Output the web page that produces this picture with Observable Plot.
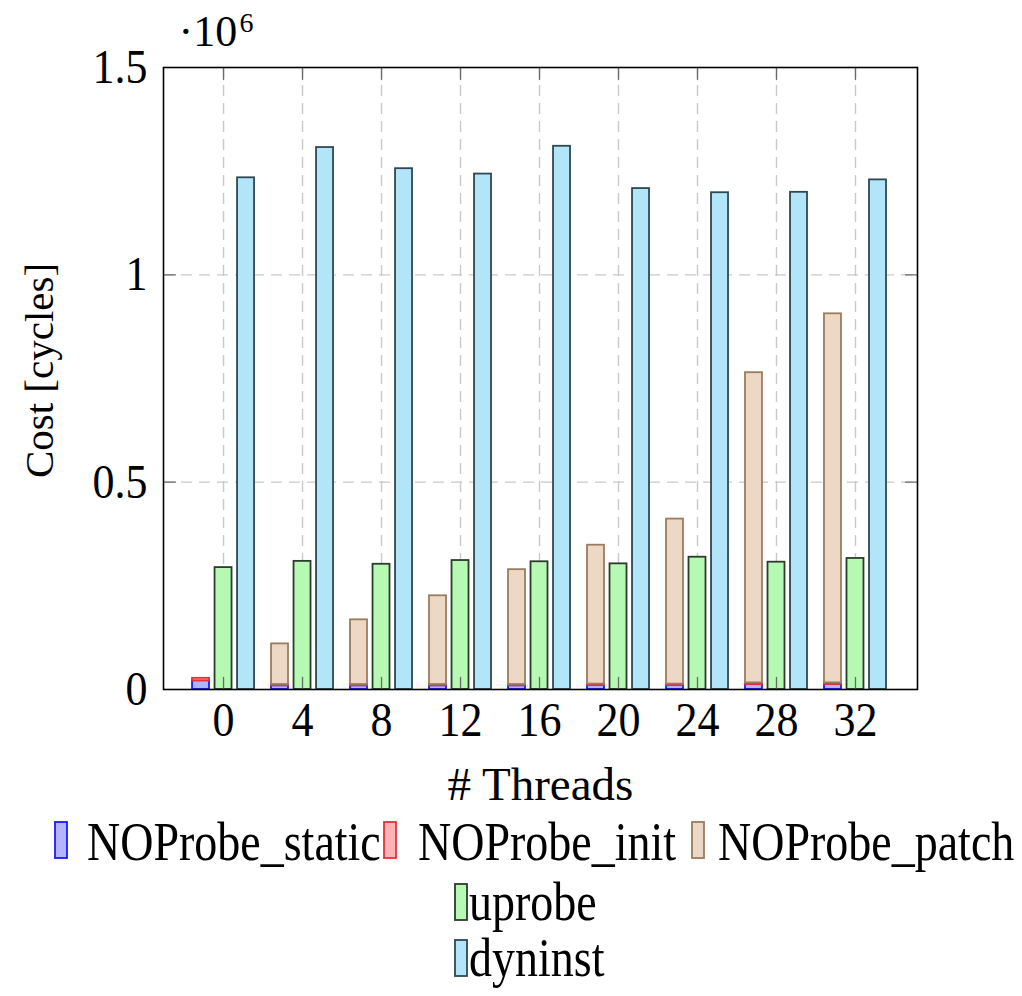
<!DOCTYPE html>
<html><head><meta charset="utf-8">
<script src="https://cdn.jsdelivr.net/npm/d3@7"></script>
<script src="https://cdn.jsdelivr.net/npm/@observablehq/plot@0.6"></script>
<style>
body{margin:0;background:#fff;}
#chart{width:1022px;}
svg{display:block;}
</style></head><body><div id="chart"></div>
<script>
// ---- data (values in 10^6 cycles) ----
const threads = [0, 4, 8, 12, 16, 20, 24, 28, 32];
const noprobeStatic = [0.021, 0.009, 0.009, 0.009, 0.009, 0.010, 0.010, 0.012, 0.012];
const noprobeInit   = [0.006, 0.003, 0.003, 0.003, 0.003, 0.003, 0.003, 0.004, 0.004];
const noprobePatch  = [0.000, 0.098, 0.156, 0.214, 0.277, 0.335, 0.398, 0.748, 0.890];
const uprobe        = [0.294, 0.309, 0.302, 0.311, 0.308, 0.303, 0.319, 0.307, 0.316];
const dyninst       = [1.234, 1.307, 1.256, 1.243, 1.310, 1.208, 1.198, 1.199, 1.229];
const seriesNames = ["NOProbe_static", "NOProbe_init", "NOProbe_patch", "uprobe", "dyninst"];
const yTicks = [0, 0.5, 1, 1.5];
const yGrid = [0.5, 1];
const xLabel = "# Threads";
const yLabel = "Cost [cycles]";

// ---- pick an installed serif font ----
function hasFont(name) {
  const c = document.createElement("canvas").getContext("2d");
  const s = "NOProbe_static 0123456789 Threads";
  return ["monospace", "sans-serif"].some(base => {
    c.font = `40px ${base}`; const w0 = c.measureText(s).width;
    c.font = `40px "${name}", ${base}`; const w1 = c.measureText(s).width;
    return Math.abs(w0 - w1) > 0.5;
  });
}
const serifCandidates = ["Liberation Serif", "Tinos", "Times New Roman", "Nimbus Roman", "FreeSerif", "DejaVu Serif", "Noto Serif"];
const found = serifCandidates.find(hasFont);
const FONT = found ? `"${found}", serif` : "serif";

// ---- styles ----
const fills   = ["#b3b3ff", "#ffb3b3", "#ecd8c4", "#b5f9b3", "#b3e5f8"];
const strokes = ["#1a1aff", "#e8303a", "#9c7c5e", "#2c3b2c", "#2e4853"];
const xDomain = [-3.04, 35.14];
const barOffset = [-1.14, 0, 1.14];   // bar shift in x units
const barW = 0.86;

// ---- build rect rows ----
const rows = seriesNames.map(() => []);
threads.forEach((t, i) => {
  const s = noprobeStatic[i], n = noprobeInit[i], p = noprobePatch[i];
  const stack = [[0, s], [s, s + n], [s + n, s + n + p]];
  stack.forEach(([a, b], k) => {
    if (b > a) rows[k].push({x1: t + barOffset[0] - barW / 2, x2: t + barOffset[0] + barW / 2, y1: a, y2: b});
  });
  rows[3].push({x1: t + barOffset[1] - barW / 2, x2: t + barOffset[1] + barW / 2, y1: 0, y2: uprobe[i]});
  rows[4].push({x1: t + barOffset[2] - barW / 2, x2: t + barOffset[2] + barW / 2, y1: 0, y2: dyninst[i]});
});

const tickShape = {draw(ctx, l) { ctx.moveTo(0, 0); ctx.lineTo(0, -l); }};
const tickStyle = {length: 12, anchor: "start", shape: tickShape, stroke: "#6a6a6a", strokeWidth: 1.3};

const chart = Plot.plot({
  width: 1022,
  height: 810,
  marginLeft: 163,
  marginRight: 105,
  marginTop: 67,
  marginBottom: 121,
  style: {fontFamily: FONT, fontSize: "44px", background: "white", color: "black"},
  x: {domain: xDomain},
  y: {domain: [0, 1.5]},
  marks: [
    Plot.ruleX(threads, {stroke: "#c9c9c9", strokeWidth: 1.4, strokeDasharray: "11,7"}),
    Plot.ruleY(yGrid, {stroke: "#c9c9c9", strokeWidth: 1.4, strokeDasharray: "11,7"}),
    ...rows.map((r, k) => Plot.rect(r, {x1: "x1", x2: "x2", y1: "y1", y2: "y2",
      fill: fills[k], stroke: strokes[k], strokeWidth: 1.8})),
    Plot.vector(threads, {x: d => d, y: 0, rotate: 0, ...tickStyle}),
    Plot.vector(threads, {x: d => d, y: 1.5, rotate: 180, ...tickStyle}),
    Plot.vector(yGrid, {x: xDomain[0], y: d => d, rotate: 90, ...tickStyle}),
    Plot.vector(yGrid, {x: xDomain[1], y: d => d, rotate: -90, ...tickStyle}),
    Plot.frame({stroke: "black", strokeWidth: 1.6}),
    Plot.axisX({ticks: threads, tickSize: 0, tickPadding: 12, fontSize: 44, fontFamily: FONT, label: null, tickFormat: d => String(d)}),
    Plot.axisY({ticks: yTicks, tickSize: 0, tickPadding: 16, fontSize: 44, fontFamily: FONT, label: null, tickFormat: d => String(d)}),
    Plot.text([xLabel], {ariaLabel: "xlabel", text: d => d, frameAnchor: "bottom", textAnchor: "middle", dy: 95, lineAnchor: "middle", fontSize: 47, fontFamily: FONT}),
    Plot.text([yLabel], {ariaLabel: "ylabel", text: d => d, frameAnchor: "left", textAnchor: "middle", rotate: -90, dx: -124, dy: -8, lineAnchor: "middle", fontSize: 41, fontFamily: FONT}),
    Plot.text(["·10"], {ariaLabel: "multiplier", text: d => d, frameAnchor: "top-left", textAnchor: "start", lineAnchor: "middle", dx: 15, dy: -36, fontSize: 44, fontFamily: FONT}),
    Plot.text(["6"], {ariaLabel: "multiplier", text: d => d, frameAnchor: "top-left", textAnchor: "start", lineAnchor: "middle", dx: 76, dy: -44, fontSize: 28, fontFamily: FONT})
  ]
});
document.getElementById("chart").appendChild(chart);

// slightly taller glyphs, as in the reference typesetting
function stretch(node, k) {
  const t = node.getAttribute("transform");
  if (t) node.setAttribute("transform", `${t} scale(1,${k})`);
  else {
    const x = +node.getAttribute("x") || 0, y = +node.getAttribute("y") || 0;
    node.removeAttribute("x"); node.removeAttribute("y");
    node.setAttribute("transform", `translate(${x},${y}) scale(1,${k})`);
  }
}
const root = d3.select(chart);
root.selectAll('g[aria-label="x-axis tick label"] text, g[aria-label="y-axis tick label"] text, g[aria-label="multiplier"] text')
  .each(function() { stretch(this, 1.1); });
root.selectAll('g[aria-label="ylabel"] text').each(function() { stretch(this, 1.12); });
root.selectAll('g[aria-label="xlabel"] text').each(function() { stretch(this, 1.04); });

// ---- legend below ----
const legendEntries = [
  {k: 0, bx: 55, by: 12, tx: 87, ty: 50},
  {k: 1, bx: 384, by: 12, tx: 418, ty: 50},
  {k: 2, bx: 692, by: 12, tx: 718, ty: 50},
  {k: 3, bx: 455, by: 74, tx: 469, ty: 110},
  {k: 4, bx: 455, by: 130, tx: 469, ty: 166}
];
const lsvg = d3.select("#chart").append("svg").attr("width", 1022).attr("height", 186)
  .style("background", "white");
legendEntries.forEach(e => {
  lsvg.append("rect").attr("x", e.bx).attr("y", e.by).attr("width", 12).attr("height", 36)
    .attr("fill", fills[e.k]).attr("stroke", strokes[e.k]).attr("stroke-width", 1.8);
  lsvg.append("text").attr("transform", `translate(${e.tx},${e.ty}) scale(1,1.18)`)
    .attr("font-size", 46).attr("font-family", FONT).text(seriesNames[e.k]);
});
</script>
</body></html>
